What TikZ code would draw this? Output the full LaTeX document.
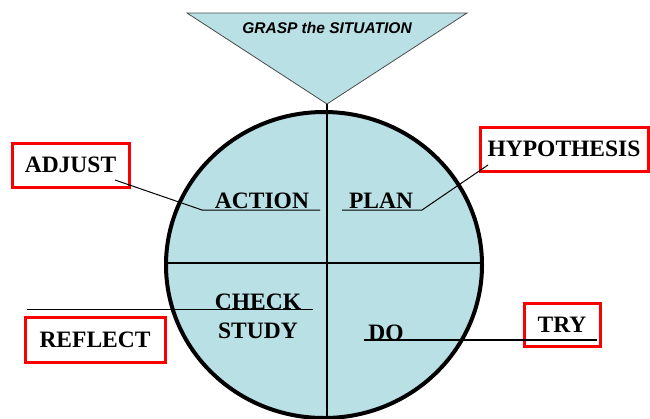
\documentclass[tikz,border=0pt]{standalone}
\usepackage{fontspec}
\setmainfont{Liberation Serif}
\setsansfont{Liberation Sans}
\definecolor{cyclefill}{RGB}{185,224,228}
\definecolor{boxred}{RGB}{250,0,0}
\begin{document}
\begin{tikzpicture}[x=1pt,y=-1pt,
  word/.style={font=\fontsize{23.5}{26}\selectfont\bfseries, inner sep=0pt},
  redbox/.style={draw=boxred, line width=3pt, fill=white, inner sep=0pt,
    font=\fontsize{23.5}{26}\selectfont\bfseries},
  leader/.style={line width=1pt},
  divider/.style={line width=1.5pt}]
\useasboundingbox (0,0) rectangle (650,418);

% the cycle disc and its quadrant dividers
\fill[cyclefill] (324,265) ellipse [x radius=158pt, y radius=153pt];
\coordinate (tip) at (327,104);
\coordinate (vbottom) at (327,425);
\coordinate (hleft) at (166,263);
\coordinate (hright) at (482,263);
\draw[divider] (tip) -- (vbottom);
\draw[divider] (hleft) -- (hright);
\draw[line width=4pt] (324,265) ellipse [x radius=158pt, y radius=153pt];

% the funnel on top
\coordinate (tl) at (187,13);
\coordinate (tr) at (467,13);
\filldraw[fill=cyclefill, draw=black!70, line width=0.8pt] (tl) -- (tr) -- (tip) -- cycle;
\node[font=\fontsize{15.5}{17}\selectfont\sffamily\bfseries\itshape, anchor=base]
  (grasp) at (327,33) {GRASP the SITUATION};

% outside labels in red frames
\node[redbox, minimum width=117pt, minimum height=44pt] (adjust) at (70.5,165) {ADJUST};
\node[redbox, minimum width=168pt, minimum height=44pt] (hypo) at (564,149) {HYPOTHESIS};
\node[redbox, minimum width=140pt, minimum height=45pt] (reflect) at (95,339.5) {REFLECT};
\node[redbox, fill=none, minimum width=76pt, minimum height=43pt] (try) at (562,324.5) {TRY};

% leader lines tying the labels to the quadrants
\coordinate (adjustend) at (115,180);
\coordinate (actionkink) at (202,210);
\coordinate (actionend) at (320,210);
\draw[leader] (adjustend) -- (actionkink) -- (actionend);

\coordinate (hypoend) at (488,165);
\coordinate (plankink) at (422,210);
\coordinate (planend) at (342,210);
\draw[leader] (hypoend) -- (plankink) -- (planend);

\coordinate (reflectend) at (27,309);
\coordinate (checkend) at (313,309);
\draw[leader] (reflectend) -- (checkend);

\coordinate (dostart) at (364,340);
\coordinate (tryend) at (597,340);
\draw[line width=1.6pt] (dostart) -- (tryend);

% quadrant words, set over the lines
\node[word, anchor=base] (action) at (262,208) {ACTION};
\node[word, anchor=base] (plan) at (381,208) {PLAN};
\node[word, anchor=base] (check) at (258,309) {CHECK};
\node[word, anchor=base] (study) at (258,338) {STUDY};
\node[word, anchor=base] (do) at (386,340) {DO};
\end{tikzpicture}
\end{document}
